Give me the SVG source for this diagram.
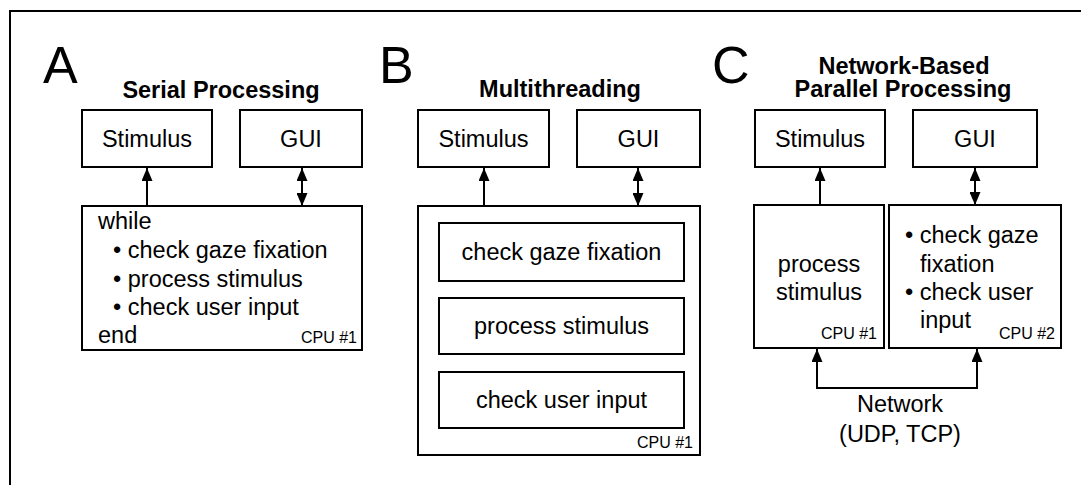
<svg xmlns="http://www.w3.org/2000/svg" width="1081" height="485" viewBox="0 0 1081 485">
<defs>
<marker id="ah" viewBox="0 0 13 11" refX="13" refY="5.5" markerWidth="13" markerHeight="11" markerUnits="userSpaceOnUse" orient="auto-start-reverse">
<path d="M0,0 L13,5.5 L0,11 z" fill="#000"/>
</marker>
<style>
.box{fill:#fff;stroke:#000;stroke-width:2}
.t{font-family:"Liberation Sans",Arial,sans-serif;font-size:23.5px;fill:#000}
.c{text-anchor:middle}
.ttl{font-family:"Liberation Sans",Arial,sans-serif;font-size:23.5px;font-weight:bold;text-anchor:middle;fill:#000}
.big{font-family:"Liberation Sans",Arial,sans-serif;font-size:52px;fill:#000}
.cpu{font-family:"Liberation Sans",Arial,sans-serif;font-size:16px;text-anchor:end;fill:#000}
.ln{fill:none;stroke:#000;stroke-width:2}
</style>
</defs>
<rect width="1081" height="485" fill="#fff"/>
<path d="M10,485 V11 H1081" class="ln"/>

<g id="panelA">
<text class="big" x="43" y="83">A</text>
<text class="ttl" x="221" y="98">Serial Processing</text>
<g id="A-stimulus"><rect class="box" x="82" y="110" width="130" height="57"/><text class="t c" x="147" y="147">Stimulus</text></g>
<g id="A-gui"><rect class="box" x="240" y="110" width="122" height="57"/><text class="t c" x="301" y="147">GUI</text></g>
<g id="A-cpu1"><rect class="box" x="82" y="206" width="280" height="144"/>
<text class="t" x="98" y="229">while</text>
<text class="t" x="113" y="258">• check gaze fixation</text>
<text class="t" x="113" y="287">• process stimulus</text>
<text class="t" x="113" y="315">• check user input</text>
<text class="t" x="98" y="343">end</text>
<text class="cpu" x="357" y="343">CPU #1</text></g>
</g>

<g id="panelB">
<text class="big" x="379" y="83">B</text>
<text class="ttl" x="560" y="97">Multithreading</text>
<g id="B-stimulus"><rect class="box" x="418" y="110" width="131" height="57"/><text class="t c" x="483.5" y="147">Stimulus</text></g>
<g id="B-gui"><rect class="box" x="577" y="110" width="123" height="57"/><text class="t c" x="638.5" y="147">GUI</text></g>
<g id="B-cpu1"><rect class="box" x="418" y="206" width="282" height="249"/>
<text class="cpu" x="693" y="448">CPU #1</text></g>
<g id="B-gaze"><rect class="box" x="439" y="223" width="245" height="58"/><text class="t c" x="561.5" y="260">check gaze fixation</text></g>
<g id="B-process"><rect class="box" x="439" y="298" width="245" height="56"/><text class="t c" x="561.5" y="334">process stimulus</text></g>
<g id="B-input"><rect class="box" x="439" y="372" width="245" height="56"/><text class="t c" x="561.5" y="408">check user input</text></g>
</g>

<g id="panelC">
<text class="big" x="712" y="83">C</text>
<text class="ttl" x="904" y="74">Network-Based</text>
<text class="ttl" x="903" y="97">Parallel Processing</text>
<g id="C-stimulus"><rect class="box" x="755" y="110" width="130" height="57"/><text class="t c" x="820" y="147">Stimulus</text></g>
<g id="C-gui"><rect class="box" x="913" y="110" width="124" height="57"/><text class="t c" x="975" y="147">GUI</text></g>
<g id="C-cpu1"><rect class="box" x="754" y="205" width="130" height="143"/>
<text class="t c" x="819" y="272">process</text>
<text class="t c" x="819" y="300">stimulus</text>
<text class="cpu" x="877" y="339">CPU #1</text></g>
<g id="C-cpu2"><rect class="box" x="889" y="205" width="172" height="143"/>
<text class="t" x="905" y="243">• check gaze</text>
<text class="t" x="920" y="272">fixation</text>
<text class="t" x="905" y="300">• check user</text>
<text class="t" x="920" y="328">input</text>
<text class="cpu" x="1055" y="339">CPU #2</text></g>
<text class="t c" x="900" y="412">Network</text>
<text class="t c" x="900" y="442">(UDP, TCP)</text>
</g>

<g id="connectors">
<line class="ln" x1="147" y1="206" x2="147" y2="168" marker-end="url(#ah)"/>
<line class="ln" x1="302" y1="168" x2="302" y2="206" marker-start="url(#ah)" marker-end="url(#ah)"/>
<line class="ln" x1="484" y1="206" x2="484" y2="168" marker-end="url(#ah)"/>
<line class="ln" x1="638" y1="168" x2="638" y2="206" marker-start="url(#ah)" marker-end="url(#ah)"/>
<line class="ln" x1="820" y1="205" x2="820" y2="168" marker-end="url(#ah)"/>
<line class="ln" x1="975" y1="168" x2="975" y2="205" marker-start="url(#ah)" marker-end="url(#ah)"/>
<path class="ln" d="M817,349 V388 H977 V349" marker-start="url(#ah)" marker-end="url(#ah)"/>
</g>
</svg>
